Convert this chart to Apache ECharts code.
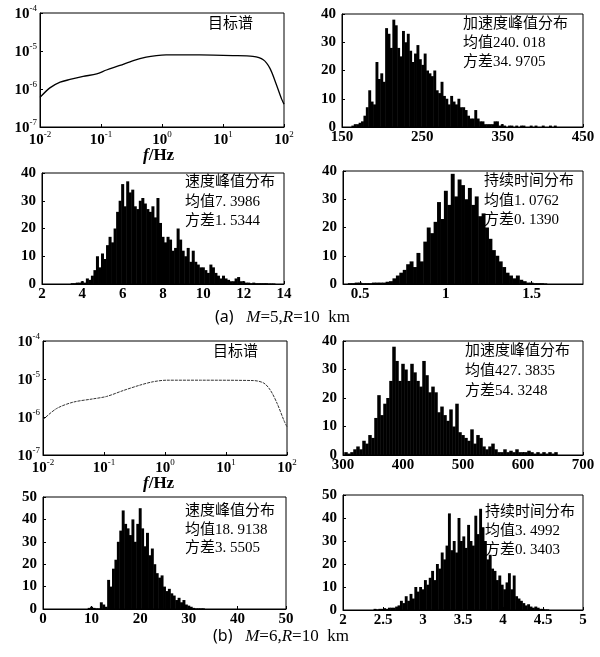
<!DOCTYPE html>
<html><head><meta charset="utf-8">
<script src="https://cdn.jsdelivr.net/npm/echarts@6/dist/echarts.min.js"></script>
<style>html,body{margin:0;padding:0;background:#fff}#c{width:600px;height:657px}</style>
</head><body><div id="c"></div>
<script>
// ---------- DATA ----------
// target spectra (f in Hz, PSD)
const specA_f = [0.01,0.0145,0.0214,0.031,0.051,0.085,0.123,0.204,0.339,0.55,0.81,1.17,4.17,14.5,30.9,45.7,58.9,74.1,91.2,100];
const specA_S = [6.0e-7,1.07e-6,1.51e-6,1.78e-6,2.14e-6,2.5e-6,3.16e-6,4.17e-6,5.6e-6,6.9e-6,7.6e-6,7.9e-6,7.9e-6,7.6e-6,7.2e-6,5.9e-6,3.5e-6,1.38e-6,5.5e-7,4.0e-7];
const specB_f = [0.01,0.0166,0.031,0.066,0.11,0.209,0.389,0.646,1.07,3.8,28.2,41.7,53.7,69.2,89.1,100];
const specB_S = [8.5e-7,1.66e-6,2.45e-6,3.0e-6,3.47e-6,5.0e-6,6.9e-6,8.5e-6,9.3e-6,9.3e-6,9.1e-6,7.8e-6,5.0e-6,2.24e-6,8.1e-7,5.5e-7];

// histograms: first bin centre, bin width, counts
const accA_start = 163.5, accA_bin = 3;
const accA_counts = [0.5,1,1,1.5,2,4,7,13,9,8,23,17,19,16,35,33,28,38,36,28,25,34,30,33,27,23,26,29,24,22,26,20,19,18,20,13,12,16,11,10,8,11,9,8,10,7,7,6,4,3,3,6,3,2,2,1,1,1,1,2,2,0.5,1,0.5,0,0.5,0.5,0,0.5,0,0.5,0.5,0,0,0.5,0,0.5,0,0,0.5,0,0,0.5,0,0.5];

const velA_start = 3.5, velA_bin = 0.125;
const velA_counts = [0.3,0.3,0.5,0.5,1,0.5,2,1.5,3,5,10,6,11,9,14,17,15,20,26,30,36,28,37,33,34,28,27,30,31,29,27,26,28,24,31,22,17,15,17,16,12,13,20,16,12,10,13,8,12,8,7,6,6,5,4,7,6,4,3,2,3,2,1.5,1,1,2,2.5,1,1,0.5,0.5,0.3,0.5,0.3,0.3,0.3,0.3,0.3,0.2,0.2,0.2];

const durA_start = 0.44, durA_bin = 0.02;
const durA_counts = [0.3,0.3,0.5,0.5,0.3,0.3,0.3,0.5,0.5,0.5,0.5,0.8,1,2,3,4,5,7,8,6,11,8,15,20,18,22,29,23,33,28,39,31,37,35,30,34,28,31,24,25,20,16,12,10,8,6,4,3,2,3,1.5,1,0.5,0.5,0.3,0.3,0.3,0.2];

const accB_start = 305, accB_bin = 5;
const accB_counts = [1,0.5,1,2,3,2,5,4,7,6,13,21,14,18,20,26,38,33,26,32,30,26,32,29,26,24,33,28,22,24,22,15,17,14,12,16,10,18,8,7,6,5,9,4,7,6,3,2,3,4,2,1,1,2,1,1.5,1,2,1,1,1,1.5,1,0.5,1,0.5,1,0.5,1,0.5,1];

const velB_start = 9.5, velB_bin = 0.5;
const velB_counts = [0.5,1,0.5,0.3,0.3,3,2,1,13,10,18,22,30,35,44,38,36,33,40,30,38,45,36,28,34,24,27,20,16,14,15,10,8,9,7,6,4,5,3,4,2,1.5,1,0.5,0.3,0.3,0.3,0.3];

const durB_start = 2.40, durB_bin = 0.03;
const durB_counts = [0.5,0.3,0.5,0.5,0.8,0.5,1,1,1,1.5,2,4,3,6,4,7,5,10,8,10,9,13,11,14,17,13,20,18,25,22,28,42,26,30,25,40,30,32,27,37,30,28,41,33,44,36,30,22,24,18,17,13,15,11,9,12,16,9,15,6,5,4,3,2,2.5,1.5,1,1.5,1,0.5,0.5,0.3,0.3];

// labels
const specTitle = '目标谱';
const notesAccA = ['加速度峰值分布','均值240. 018','方差34. 9705'];
const notesVelA = ['速度峰值分布','均值7. 3986','方差1. 5344'];
const notesDurA = ['持续时间分布','均值1. 0762','方差0. 1390'];
const notesAccB = ['加速度峰值分布','均值427. 3835','方差54. 3248'];
const notesVelB = ['速度峰值分布','均值18. 9138','方差3. 5505'];
const notesDurB = ['持续时间分布','均值3. 4992','方差0. 3403'];
const ticksAccA = [150,250,350,450];
const ticksDurA = [0.5,1,1.5];

// ---------- BUILD ----------
const SERIF = "'Liberation Serif','Noto Sans CJK SC',serif";
const chart = echarts.init(document.getElementById('c'), null, {renderer:'canvas'});
const opt = {animation:false, backgroundColor:'#fff', grid:[], xAxis:[], yAxis:[], series:[], graphic:[]};

function hist(start, bin, counts){ return counts.map((c,i)=>[start+i*bin, c]); }

const labelStyle = {color:'#000', fontFamily:SERIF, fontSize:15, fontWeight:'bold'};
const logRich = {b:{fontSize:15, fontFamily:SERIF, color:'#000', fontWeight:'bold', lineHeight:18, verticalAlign:'bottom'}, s:{fontSize:9, fontFamily:SERIF, color:'#000', lineHeight:18, verticalAlign:'top'}};
function logFmt(v){ return '{b|10}{s|' + Math.round(Math.log10(v)) + '}'; }

function addGrid(g){
  opt.grid.push({left:g.left, top:g.top, width:g.width, height:g.height, show:true, borderColor:'#000', borderWidth:1, backgroundColor:'transparent'});
  return opt.grid.length-1;
}
function axisBase(){ return {axisLine:{show:true, lineStyle:{color:'#000', width:1}}, axisTick:{show:true, inside:true, length:3, lineStyle:{color:'#000'}}, splitLine:{show:false}}; }

function addSpectrum(g, f, S, dashed){
  const gi = addGrid(g);
  opt.xAxis.push(Object.assign(axisBase(), {gridIndex:gi, type:'log', logBase:10, min:0.01, max:100,
    axisLabel:{formatter:logFmt, rich:logRich, margin:3, showMinLabel:true, showMaxLabel:true}}));
  opt.yAxis.push(Object.assign(axisBase(), {gridIndex:gi, type:'log', logBase:10, min:1e-7, max:1e-4,
    axisLabel:{formatter:logFmt, rich:logRich, margin:3, showMinLabel:true, showMaxLabel:true}}));
  opt.series.push({type:'line', xAxisIndex:gi, yAxisIndex:gi, data:f.map((x,i)=>[x,S[i]]), smooth:0.3, symbol:'none',
    lineStyle: dashed ? {color:'#333', width:1, type:[3,1]} : {color:'#000', width:1.3}});
  return gi;
}

function addHist(g, xr, yr, start, bin, counts, extraX){
  const gi = addGrid(g);
  const xa = Object.assign(axisBase(), {gridIndex:gi, type:'value', min:xr[0], max:xr[1],
    axisLabel:Object.assign({margin:3, showMinLabel:true, showMaxLabel:true}, labelStyle)});
  if (xr[2]) xa.interval = xr[2];
  if (extraX) { xa.axisLabel.customValues = extraX; xa.axisTick.customValues = extraX; }
  opt.xAxis.push(xa);
  opt.yAxis.push(Object.assign(axisBase(), {gridIndex:gi, type:'value', min:yr[0], max:yr[1], interval:yr[2],
    axisLabel:Object.assign({margin:6, showMinLabel:true, showMaxLabel:true}, labelStyle)}));
  const bw = bin/(xr[1]-xr[0])*g.width + 0.5;
  opt.series.push({type:'bar', xAxisIndex:gi, yAxisIndex:gi, data:hist(start,bin,counts), barWidth:bw,
    itemStyle:{color:'#000'}, barGap:'-100%'});
  return gi;
}

function addNotes(x, y, lines, step){
  lines.forEach((t,i)=>opt.graphic.push({type:'text', left:x, top:y+i*step, style:{text:t, fill:'#000', font:"15px "+SERIF}}));
}

// Panels
addSpectrum({left:40, top:13, width:244, height:114}, specA_f, specA_S, false);
addNotes(208, 17, [specTitle], 19);
addHist({left:342, top:14, width:241, height:113}, [150,450], [0,40,10], accA_start, accA_bin, accA_counts, ticksAccA);
addNotes(463, 17, notesAccA, 19);
addHist({left:42, top:173, width:242, height:111}, [2,14,2], [0,40,10], velA_start, velA_bin, velA_counts);
addNotes(185, 175, notesVelA, 19.5);
addHist({left:343, top:171, width:240, height:113}, [0.4,1.8], [0,40,10], durA_start, durA_bin, durA_counts, ticksDurA);
addNotes(484, 174, notesDurA, 19.5);

addSpectrum({left:43, top:341, width:244, height:114}, specB_f, specB_S, true);
addNotes(213, 345, [specTitle], 19);
addHist({left:343, top:341, width:240, height:114}, [300,700,100], [0,40,10], accB_start, accB_bin, accB_counts);
addNotes(465, 344, notesAccB, 20);
addHist({left:43, top:497, width:243, height:112}, [0,50,10], [0,50,10], velB_start, velB_bin, velB_counts);
addNotes(185, 504, notesVelB, 18.5);
addHist({left:343, top:495, width:240, height:115}, [2,5,0.5], [0,50,10], durB_start, durB_bin, durB_counts);
addNotes(485, 505, notesDurB, 19);

// axis name f/Hz and captions
const fhzRich = {i:{fontFamily:SERIF, fontStyle:'italic', fontSize:17, fill:'#000', fontWeight:'bold'}, n:{fontFamily:SERIF, fontSize:17, fill:'#000', fontWeight:'bold'}};
opt.graphic.push({type:'text', left:143, top:147, style:{text:'{i|f}{n|/Hz}', rich:fhzRich}});
opt.graphic.push({type:'text', left:143, top:475, style:{text:'{i|f}{n|/Hz}', rich:fhzRich}});
const capRich = {p:{fontFamily:"'Noto Sans',sans-serif", fontSize:16, fill:'#000'}, i:{fontFamily:SERIF, fontStyle:'italic', fontSize:17, fill:'#000'}, n:{fontFamily:SERIF, fontSize:17, fill:'#000'}};
opt.graphic.push({type:'text', left:215, top:309, style:{text:'{p|(a)}{n|   }{i|M}{n|=5,}{i|R}{n|=10  km}', rich:capRich}});
opt.graphic.push({type:'text', left:213, top:628, style:{text:'{p|(b)}{n|   }{i|M}{n|=6,}{i|R}{n|=10  km}', rich:capRich}});

chart.setOption(opt);
</script></body></html>
